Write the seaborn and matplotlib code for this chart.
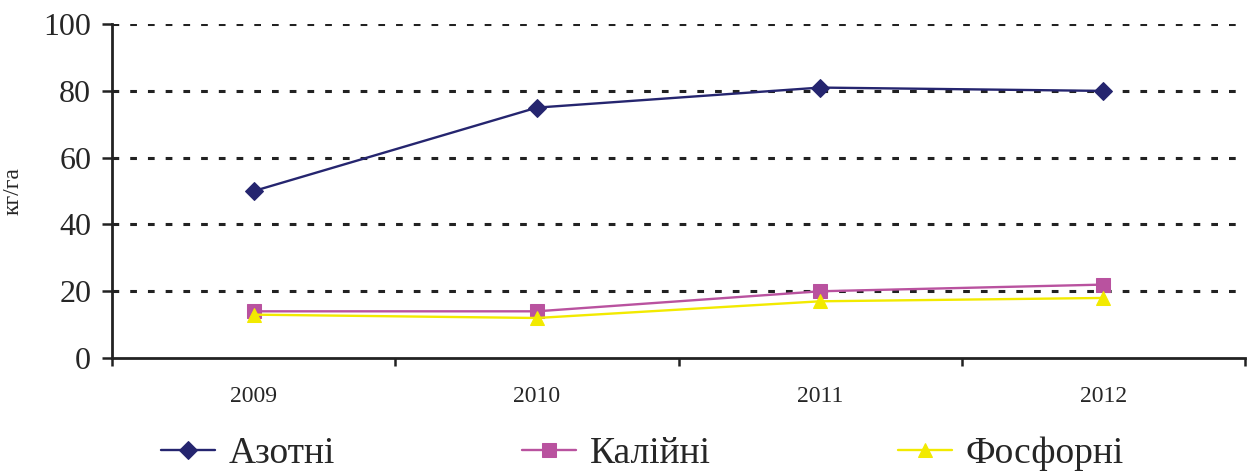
import numpy as np
import pandas as pd
import seaborn as sns
import matplotlib.pyplot as plt

years = ["2009", "2010", "2011", "2012"]
series_names = ["Азотні", "Калійні", "Фосфорні"]
azot = [50, 75, 81, 80]
kaliy = [14, 14, 20, 22]
fosfor = [13, 12, 17, 18]

colors = ["#25256f", "#b9529f", "#f2ea00"]
markers = ["D", "s", "^"]

df = pd.DataFrame({
    "pos": list(range(len(years))) * 3,
    "value": azot + kaliy + fosfor,
    "series": np.repeat(series_names, len(years)),
})

sns.set_theme(style="white")
plt.rcParams['font.family'] = ['Liberation Serif', 'DejaVu Serif']

fig = plt.figure(figsize=(12.5, 4.73), dpi=100)
ax = fig.add_axes([0.0896, 0.243, 0.9064, 0.706])

for name, col, mk in zip(series_names, colors, markers):
    sub = df[df.series == name]
    sns.lineplot(data=sub, x="pos", y="value", ax=ax, color=col, marker=mk,
                 markersize=10 if mk != "D" else 9, markeredgecolor=col,
                 linewidth=1.7, label=name, sort=False)

ax.set_xlim(-0.5, 3.5)
ax.set_ylim(0, 100)
ax.set_yticks(np.arange(0, 101, 20))
ax.set_xticks(range(len(years)))
ax.set_xticklabels(years, fontsize=17)
ax.set_xticks(np.arange(-0.5, 3.6, 1), minor=True)
ax.tick_params(axis="x", which="major", length=0, pad=20)
ax.tick_params(axis="x", which="minor", length=6, width=1.8, color="#222222", direction="out", bottom=True)
ax.tick_params(axis="y", length=7, width=1.8, color="#222222", direction="out", left=True,
               labelsize=23, pad=8)
ax.set_xlabel("")
ax.set_ylabel("кг/га", fontsize=17, labelpad=14)

for yv in range(20, 101, 20):
    ax.axhline(yv, color="#222222", linewidth=2.2, linestyle=(0, (2.2, 3.6)), zorder=0)

sns.despine(ax=ax)
for s in ["left", "bottom"]:
    ax.spines[s].set_color("#222222")
    ax.spines[s].set_linewidth(2)

ax.legend(loc="upper center", bbox_to_anchor=(0.468, -0.19), ncol=3, frameon=False,
          fontsize=27, handlelength=1.45, handletextpad=0.35, columnspacing=5.0,
          borderaxespad=0)

fig.savefig("out.png", dpi=100)
